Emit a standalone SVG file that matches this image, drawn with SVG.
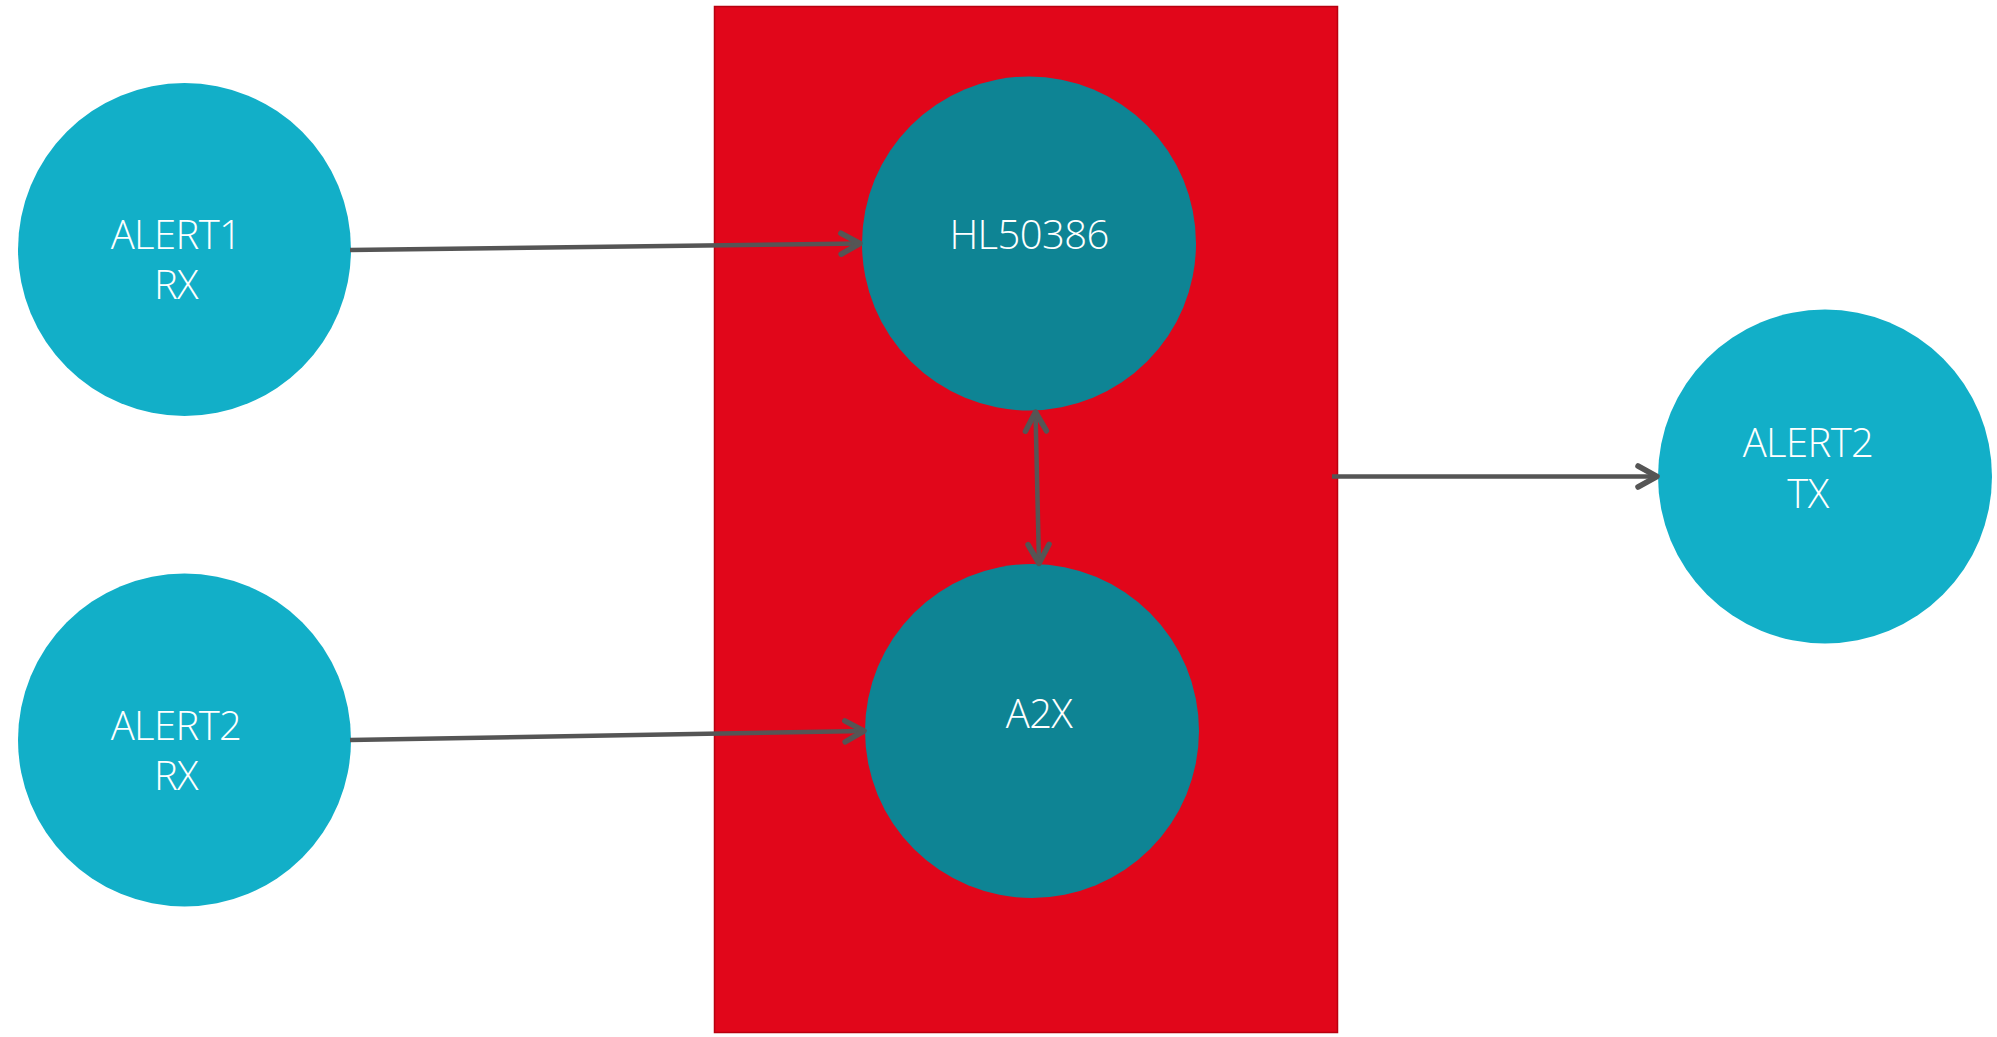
<svg xmlns="http://www.w3.org/2000/svg" width="1997" height="1037" viewBox="0 0 1997 1037">
<defs>
<style>
.ext{fill:#12AFC8}
.int{fill:#0E8494}
.lbl{font-family:"Open Sans","Noto Sans",sans-serif;font-weight:300;font-size:40px;letter-spacing:-0.6px;fill:#FFFFFF;text-anchor:middle}
.conn{stroke:#555555;stroke-width:4.5;fill:none}
</style>
<marker id="arr" viewBox="0 0 30 30" refX="25" refY="15" markerWidth="30" markerHeight="30" markerUnits="userSpaceOnUse" orient="auto-start-reverse">
<path d="M6,4.5 L25,15 L6,25.5" fill="none" stroke="#555555" stroke-width="5.5" stroke-linecap="round" stroke-linejoin="round"/>
</marker>
</defs>
<rect width="1997" height="1037" fill="#FFFFFF"/>
<g id="boundary">
<rect x="714.5" y="6.5" width="623" height="1026" fill="#E1061A" stroke="#B8000F" stroke-width="1.5"/>
</g>
<g id="alert1rx">
<circle class="ext" cx="184.5" cy="249.5" r="166.5"/>
<text class="lbl" x="176" y="249">ALERT1<tspan x="176" dy="50">RX</tspan></text>
</g>
<g id="alert2rx">
<circle class="ext" cx="184.5" cy="740" r="166.5"/>
<text class="lbl" x="176" y="739.5">ALERT2<tspan x="176" dy="50">RX</tspan></text>
</g>
<g id="hl50386">
<circle class="int" cx="1029" cy="243.5" r="167"/>
<text class="lbl" x="1029" y="249">HL50386</text>
</g>
<g id="a2x">
<circle class="int" cx="1032" cy="731" r="167"/>
<text class="lbl" x="1039" y="728">A2X</text>
</g>
<g id="alert2tx">
<circle class="ext" cx="1825" cy="476.5" r="167"/>
<text class="lbl" x="1808" y="457">ALERT2<tspan x="1808" dy="51">TX</tspan></text>
</g>
<g id="connectors">
<line class="conn" x1="350" y1="250" x2="860" y2="243.5" marker-end="url(#arr)"/>
<line class="conn" x1="350" y1="740" x2="864" y2="731" marker-end="url(#arr)"/>
<line class="conn" x1="1035.5" y1="412" x2="1039" y2="563.5" marker-start="url(#arr)" marker-end="url(#arr)"/>
<line class="conn" x1="1332" y1="476.5" x2="1657" y2="476.5" marker-end="url(#arr)"/>
</g>
</svg>
